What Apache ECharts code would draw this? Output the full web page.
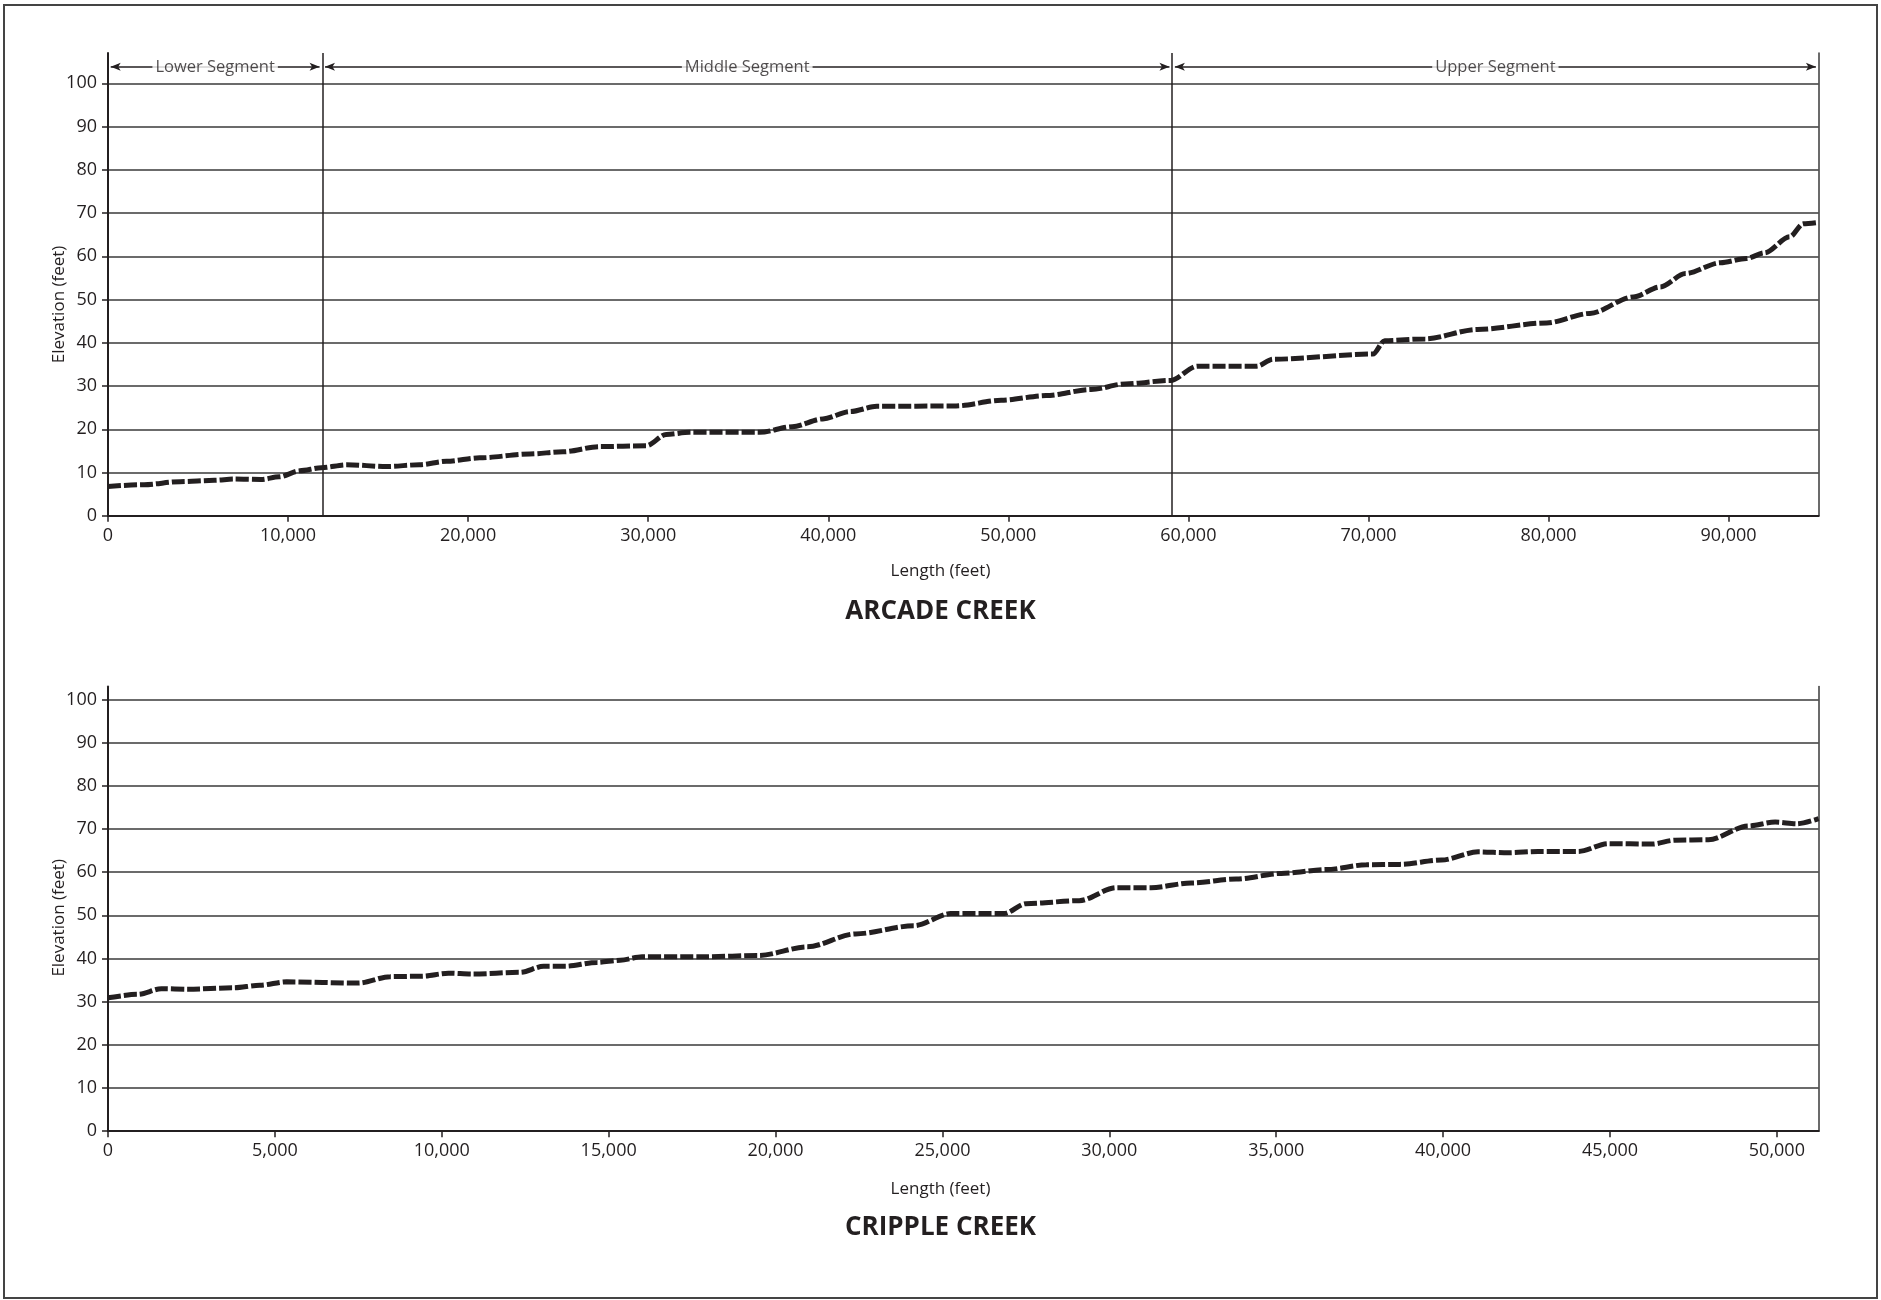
<!DOCTYPE html>
<html>
<head>
<meta charset="utf-8">
<script src="https://cdn.jsdelivr.net/npm/echarts@6/dist/echarts.min.js"></script>
<style>
html,body{margin:0;padding:0;background:#fff;}
#frame{position:absolute;left:3px;top:4px;width:1875px;height:1295px;box-sizing:border-box;border:2px solid #444;}
#chart{position:absolute;left:0;top:0;width:1881px;height:1300px;}
</style>
</head>
<body>
<div id="frame"></div>
<div id="chart"></div>
<script>
// ---------- DATA ----------
const arcadeLength = [0, 2000, 4000, 5900, 7000, 8500, 9500, 10650, 11850, 13250, 15470, 17300, 18800, 20640, 23420, 25270, 27300, 29900, 31000, 32300, 36200, 38000, 39700, 41200, 42700, 47100, 49600, 52100, 54600, 56500, 59000, 60500, 63800, 64700, 70250, 70900, 73150, 76050, 79900, 82300, 84700, 86200, 87600, 89550, 91000, 92000, 93400, 94150, 95000];
const arcadeElev = [6.8, 7.2, 7.9, 8.2, 8.5, 8.4, 9.0, 10.4, 11.1, 11.8, 11.4, 11.8, 12.6, 13.4, 14.3, 14.8, 16.0, 16.2, 18.8, 19.3, 19.3, 20.6, 22.4, 24.1, 25.3, 25.4, 26.7, 27.8, 29.2, 30.5, 31.3, 34.6, 34.6, 36.2, 37.4, 40.5, 40.9, 43.1, 44.6, 46.8, 50.6, 52.9, 56.0, 58.5, 59.5, 60.8, 64.5, 67.5, 67.8];

const crippleLength = [0, 900, 1600, 2400, 3750, 4550, 5350, 7500, 8450, 9400, 10200, 10900, 12350, 13050, 13700, 14650, 15350, 16000, 17900, 19500, 20950, 22400, 24150, 25250, 26850, 27500, 29100, 30200, 31250, 32450, 33800, 35150, 36500, 37700, 38700, 39950, 41050, 41950, 42850, 44050, 44950, 46250, 46950, 47950, 49150, 49950, 50600, 51250];
const crippleElev = [30.9, 31.7, 33.0, 32.9, 33.2, 33.8, 34.6, 34.3, 35.8, 35.9, 36.6, 36.4, 36.8, 38.2, 38.2, 39.1, 39.6, 40.4, 40.4, 40.7, 42.7, 45.7, 47.6, 50.4, 50.4, 52.7, 53.4, 56.4, 56.4, 57.5, 58.4, 59.7, 60.6, 61.7, 61.8, 62.8, 64.7, 64.5, 64.8, 64.8, 66.6, 66.5, 67.4, 67.5, 70.7, 71.6, 71.2, 72.4];

// Segment boundaries (Arcade Creek) and names
const segmentBounds = [0, 11900, 59100, 95000];
const segmentNames = ['Lower Segment', 'Middle Segment', 'Upper Segment'];
const segmentLevel = 103.8;

// Tick values
const yTicks = [0, 10, 20, 30, 40, 50, 60, 70, 80, 90, 100];
const arcadeXMax = 95000;
const crippleXMax = 51250;
const arcadeXInterval = 10000;
const crippleXInterval = 5000;

// ---------- OPTION ----------
const FONT = '"Open Sans", "Noto Sans", sans-serif';
const INK = '#231f20';
const arrowGap = 150;

function zip(a, b) { return a.map((v, i) => [v, b[i]]); }
function fmt(v) { return Number(v).toLocaleString('en-US'); }

const boundaryLines = segmentBounds.slice(1, -1).map(b => [
  { coord: [b, 0], symbol: 'none' },
  { coord: [b, 107], symbol: 'none' }
]);
const arrowLines = segmentNames.map((n, i) => [
  { coord: [segmentBounds[i] + arrowGap, segmentLevel], symbol: 'arrow' },
  { coord: [segmentBounds[i + 1] - arrowGap, segmentLevel], symbol: 'arrow' }
]);
const segmentLabels = segmentNames.map((n, i) => [(segmentBounds[i] + segmentBounds[i + 1]) / 2, segmentLevel, n]);

function xAxisCfg(gridIndex, max, interval) {
  return {
    type: 'value', gridIndex, min: 0, max, interval,
    axisLine: { show: true, onZero: false, lineStyle: { color: INK, width: 2 } },
    axisTick: { show: true, length: 6, lineStyle: { color: INK, width: 1.5 } },
    axisLabel: { show: true, showMaxLabel: false, margin: 11, color: INK, fontFamily: FONT, fontSize: 18, formatter: fmt },
    splitLine: { show: false }
  };
}
function yAxisLeft(gridIndex, max, namePad) {
  return {
    type: 'value', gridIndex, min: 0, max, interval: 10, position: 'left',
    name: 'Elevation (feet)', nameLocation: 'middle', nameGap: 40, nameMoveOverlap: false,
    nameTextStyle: { color: INK, fontFamily: FONT, fontSize: 17, padding: namePad },
    axisLine: { show: true, lineStyle: { color: INK, width: 2 } },
    axisTick: { show: true, length: 6, customValues: yTicks, lineStyle: { color: INK, width: 1.5 } },
    axisLabel: { show: true, customValues: yTicks, margin: 11, color: INK, fontFamily: FONT, fontSize: 18 },
    splitLine: { show: true, showMinLine: false, lineStyle: { color: '#3a3a3a', width: 1.5 } }
  };
}
function yAxisRight(gridIndex, max) {
  return {
    type: 'value', gridIndex, min: 0, max, interval: 10, position: 'right',
    axisLine: { show: true, lineStyle: { color: '#3a3a3a', width: 1.5 } },
    axisTick: { show: false }, axisLabel: { show: false }, splitLine: { show: false }
  };
}
const lineStyle = { color: INK, width: 5, type: [13, 3], cap: 'butt' };

const option = {
  backgroundColor: 'transparent',
  animation: false,
  title: [
    { text: 'Length (feet)', left: 'center', top: 558, textStyle: { color: INK, fontFamily: FONT, fontSize: 17, fontWeight: 'normal' } },
    { text: 'ARCADE CREEK', left: 'center', top: 594, textStyle: { color: INK, fontFamily: FONT, fontSize: 26, fontWeight: 'bold' } },
    { text: 'Length (feet)', left: 'center', top: 1176, textStyle: { color: INK, fontFamily: FONT, fontSize: 17, fontWeight: 'normal' } },
    { text: 'CRIPPLE CREEK', left: 'center', top: 1210, textStyle: { color: INK, fontFamily: FONT, fontSize: 26, fontWeight: 'bold' } }
  ],
  grid: [
    { left: 108, right: 62.4, top: 53, bottom: 784.2, containLabel: false },
    { left: 108, right: 62.4, top: 686.5, bottom: 168.8, containLabel: false }
  ],
  xAxis: [
    xAxisCfg(0, arcadeXMax, arcadeXInterval),
    xAxisCfg(1, crippleXMax, crippleXInterval)
  ],
  yAxis: [
    yAxisLeft(0, 107, [0, 40, 0, 0]),
    yAxisRight(0, 107),
    yAxisLeft(1, 103, [0, 18, 0, 0]),
    yAxisRight(1, 103)
  ],
  series: [
    {
      name: 'Arcade Creek', type: 'line', xAxisIndex: 0, yAxisIndex: 0,
      data: zip(arcadeLength, arcadeElev), showSymbol: false, symbol: 'none',
      smooth: 0.3, smoothMonotone: 'x', lineStyle, z: 5
    },
    {
      name: 'boundaries', type: 'line', xAxisIndex: 0, yAxisIndex: 0, data: [],
      markLine: { silent: true, symbol: 'none', label: { show: false },
        lineStyle: { color: INK, width: 1.5, type: 'solid' }, data: boundaryLines }, z: 3
    },
    {
      name: 'arrows', type: 'line', xAxisIndex: 0, yAxisIndex: 0, data: [],
      markLine: { silent: true, symbol: ['arrow', 'arrow'], symbolSize: [6, 10], label: { show: false },
        lineStyle: { color: INK, width: 1.5, type: 'solid' }, data: arrowLines }, z: 3
    },
    {
      name: 'segments', type: 'scatter', xAxisIndex: 0, yAxisIndex: 0,
      data: segmentLabels, symbolSize: 1, itemStyle: { color: 'rgba(0,0,0,0)' }, z: 6,
      label: { show: true, position: 'inside', formatter: p => p.data[2], color: INK,
        fontFamily: FONT, fontSize: 16.5, backgroundColor: '#fff', padding: [1, 3] }
    },
    {
      name: 'Cripple Creek', type: 'line', xAxisIndex: 1, yAxisIndex: 2,
      data: zip(crippleLength, crippleElev), showSymbol: false, symbol: 'none',
      smooth: 0.3, smoothMonotone: 'x', lineStyle, z: 5
    }
  ]
};

const chart = echarts.init(document.getElementById('chart'), null, { renderer: 'canvas' });
chart.setOption(option);
</script>
</body>
</html>
